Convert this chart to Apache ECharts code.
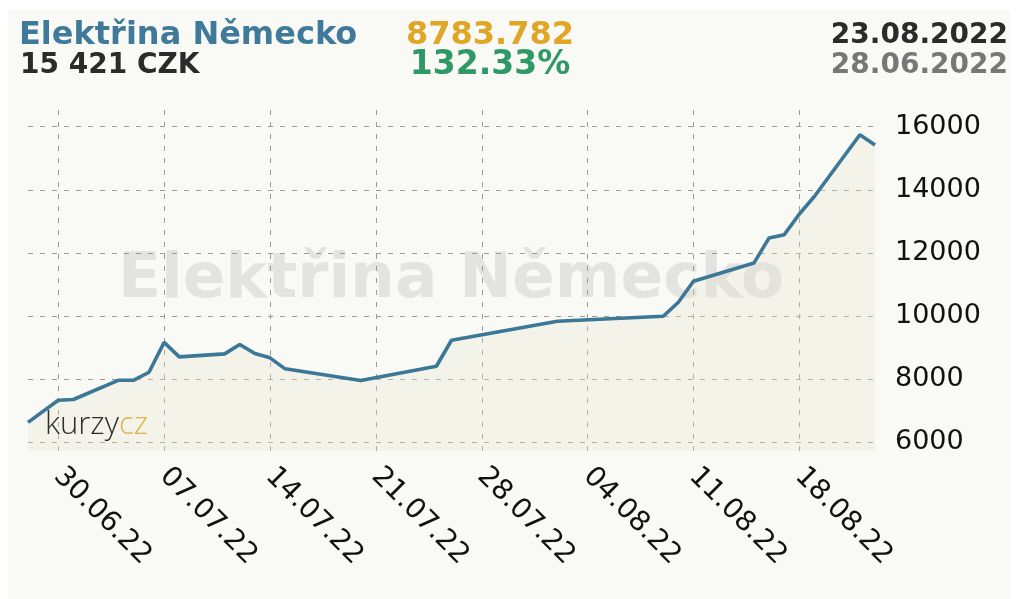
<!DOCTYPE html>
<html>
<head>
<meta charset="utf-8">
<script src="https://cdn.jsdelivr.net/npm/echarts@6/dist/echarts.min.js"></script>
<style>
  html, body { margin: 0; padding: 0; background: #ffffff; }
  #chart { width: 1018px; height: 599px; }
</style>
</head>
<body>
<div id="chart"></div>
<script>
  // kurz elektřiny (DE) - obchodní dny, jen zlomové body čáry
  var dates = ['2022-06-28', '2022-06-30', '2022-07-01', '2022-07-04', '2022-07-05', '2022-07-06',
    '2022-07-07', '2022-07-08', '2022-07-11', '2022-07-12', '2022-07-13', '2022-07-14', '2022-07-15',
    '2022-07-20', '2022-07-25', '2022-07-26', '2022-08-02', '2022-08-09', '2022-08-10', '2022-08-11',
    '2022-08-15', '2022-08-16', '2022-08-17', '2022-08-18', '2022-08-19', '2022-08-22', '2022-08-23'];
  var prices = [6637, 7339, 7361, 7972, 7972, 8225,
    9171, 8712, 8807, 9101, 8816, 8680, 8332,
    7962, 8414, 9237, 9839, 9997, 10440, 11104,
    11687, 12478, 12582, 13237, 13797, 15747, 15421];

  var xTicks = ['2022-06-30', '2022-07-07', '2022-07-14', '2022-07-21', '2022-07-28',
    '2022-08-04', '2022-08-11', '2022-08-18'];
  var yTicks = [6000, 8000, 10000, 12000, 14000, 16000];

  var title = 'Elektřina Německo';
  var lastPrice = '15 421 CZK';
  var change = '8783.782';
  var changePct = '132.33%';
  var dateTo = '23.08.2022';
  var dateFrom = '28.06.2022';

  var font = 'DejaVu Sans';

  function ts(s) {
    var p = s.split('-');
    return Date.UTC(+p[0], +p[1] - 1, +p[2]);
  }

  function fmtDate(v) {
    var d = new Date(v);
    var dd = ('0' + d.getUTCDate()).slice(-2);
    var mm = ('0' + (d.getUTCMonth() + 1)).slice(-2);
    var yy = String(d.getUTCFullYear()).slice(-2);
    return dd + '.' + mm + '.' + yy;
  }

  function boldFont(size) {
    return 'bold ' + size + 'px "' + font + '"';
  }

  var chart = echarts.init(document.getElementById('chart'));

  var option = {
    animation: false,
    backgroundColor: '#ffffff',
    grid: { left: 28, right: 143, top: 110, bottom: 148 },
    graphic: [
      { type: 'rect', z: -10, shape: { x: 8, y: 10, width: 1002, height: 600 }, style: { fill: '#f9f9f5' } },
      // vodoznak
      { type: 'text', z: 0, x: 118, y: 281,
        style: { text: title, font: boldFont(63), fill: '#e3e3e2', verticalAlign: 'middle' } },
      { type: 'text', z: 5, x: 45, y: 441,
        style: {
          text: '{a|kurzy}{b|cz}', verticalAlign: 'bottom',
          rich: {
            a: { font: '300 31px "Open Sans"', fill: '#2e2e2e' },
            b: { font: '300 31px "Open Sans"', fill: '#e0b24a' }
          }
        } },
      // hlavička
      { type: 'text', x: 19, y: 36, style: { text: title, font: boldFont(32), fill: '#3f7a9a', verticalAlign: 'middle' } },
      { type: 'text', x: 20, y: 66, style: { text: lastPrice, font: boldFont(28), fill: '#2b2b2b', verticalAlign: 'middle' } },
      { type: 'text', x: 490, y: 36, style: { text: change, font: boldFont(32), fill: '#e0a727', align: 'center', verticalAlign: 'middle' } },
      { type: 'text', x: 490, y: 65, style: { text: changePct, font: boldFont(33), fill: '#2e9966', align: 'center', verticalAlign: 'middle' } },
      { type: 'text', x: 1008, y: 36, style: { text: dateTo, font: boldFont(28), fill: '#2b2b2b', align: 'right', verticalAlign: 'middle' } },
      { type: 'text', x: 1008, y: 66, style: { text: dateFrom, font: boldFont(28), fill: '#777777', align: 'right', verticalAlign: 'middle' } }
    ],
    xAxis: {
      type: 'value',
      min: ts('2022-06-28'),
      max: ts('2022-08-23'),
      axisLine: { show: false },
      axisTick: { show: false, customValues: xTicks.map(ts) },
      splitLine: { show: true, lineStyle: { color: '#9a9a9a', type: [5, 7], width: 1 } },
      axisLabel: {
        customValues: xTicks.map(ts),
        rotate: -45,
        margin: 21,
        color: '#111',
        fontFamily: font,
        fontSize: 28,
        formatter: fmtDate
      }
    },
    yAxis: {
      type: 'value',
      position: 'right',
      min: 5730,
      max: 16530,
      axisLine: { show: false },
      axisTick: { show: false, customValues: yTicks },
      splitLine: { show: true, lineStyle: { color: '#9a9a9a', type: [5, 7], width: 1 } },
      axisLabel: {
        customValues: yTicks,
        margin: 20,
        color: '#111',
        fontFamily: font,
        fontSize: 27,
        formatter: function (v) { return String(v); }
      }
    },
    series: [{
      type: 'line',
      data: dates.map(function (d, i) { return [ts(d), prices[i]]; }),
      showSymbol: false,
      z: 3,
      lineStyle: { color: '#3b7797', width: 3.6 },
      areaStyle: { color: '#e4e4cc', opacity: 0.3, origin: 'start' }
    }]
  };

  chart.setOption(option);
</script>
</body>
</html>
